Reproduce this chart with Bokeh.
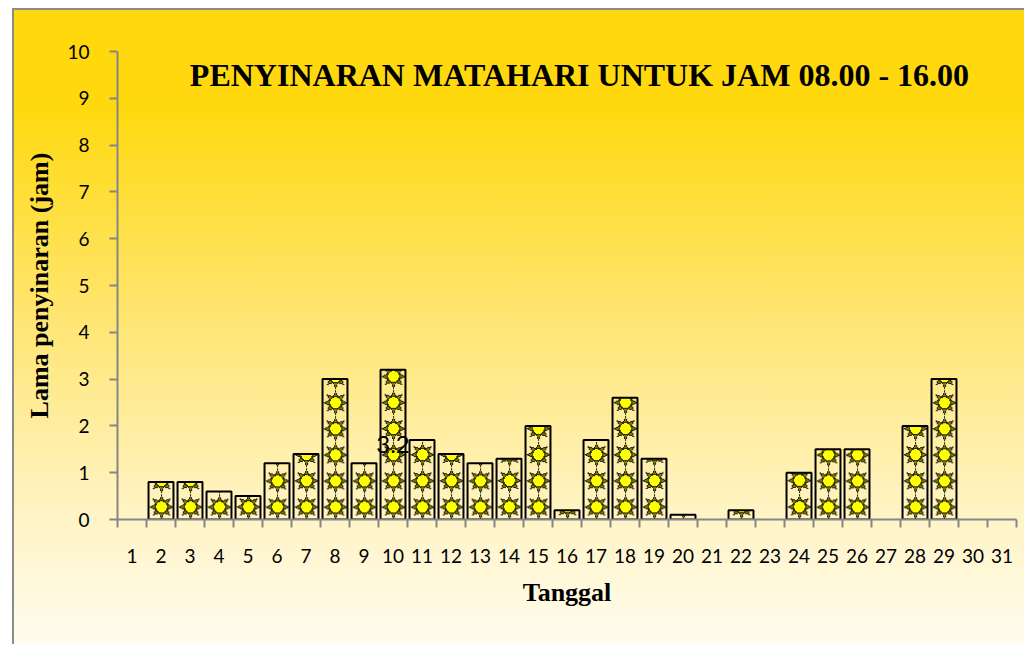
import numpy as np

from bokeh.core.properties import value
from bokeh.embed import file_html
from bokeh.models import ColumnDataSource, FixedTicker, Label
from bokeh.plotting import figure
from bokeh.resources import INLINE

# ---------------- data ----------------
days = list(range(1, 32))
day_labels = [str(d) for d in days]
hours = [0, 0.8, 0.8, 0.6, 0.5, 1.2, 1.4, 3.0, 1.2, 3.2, 1.7, 1.4, 1.2, 1.3, 2.0, 0.2,
         1.7, 2.6, 1.3, 0.1, 0, 0.2, 0, 1.0, 1.5, 1.5, 0, 2.0, 3.0, 0, 0]
label_days = [10]
label_values = [3.2]
y_ticks = list(range(0, 11))

title_text = "PENYINARAN MATAHARI UNTUK JAM 08.00 - 16.00"
x_title = "Tanggal"
y_title = "Lama penyinaran (jam)"

BAR_W = 0.86
PX_PER_UNIT_Y = 46.8   # frame height 468 px for 10 units (texture resolution)
BAR_PX_W = 25          # 0.86 of a 29 px category


# ---------------- sun-picture fill (decoration only) ----------------
def sun_fill(h_px, w_px=BAR_PX_W, period=26.0, first=12.3):
    yy, xx = np.mgrid[0:h_px, 0:w_px].astype(float) + 0.5
    rgba = np.zeros((h_px, w_px, 4), dtype=np.uint8)
    cx = w_px / 2.0
    k = 0
    while first + period * k - 14 < h_px:
        cy = first + period * k
        dx, dy = xx - cx, yy - cy
        r = np.hypot(dx, dy)
        ang = np.arctan2(dy, dx)
        a0 = np.round(ang / (np.pi / 4)) * (np.pi / 4)
        along = r * np.cos(ang - a0)
        perp = r * np.abs(np.sin(ang - a0))
        half = 2.7 * (12.4 - along) / 6.4
        ray = (along >= 5.0) & (along <= 12.4) & (perp <= half)
        ray_edge = ray & ((perp >= half - 0.9) | (along >= 11.6))
        circ = r <= 6.4
        circ_edge = circ & (r >= 5.3)
        rgba[ray] = (122, 118, 32, 255)
        rgba[ray_edge] = (40, 38, 0, 255)
        rgba[circ] = (255, 255, 0, 255)
        rgba[circ_edge] = (45, 45, 0, 255)
        k += 1
    img = np.zeros((h_px, w_px), dtype=np.uint32)
    img.view(dtype=np.uint8).reshape((h_px, w_px, 4))[:] = rgba
    return img


# ---------------- figure ----------------
p = figure(width=1012, height=636, x_range=(0.5, 31.5), y_range=(0, 10),
           output_backend="svg", toolbar_location=None,
           min_border_left=103, min_border_right=10, min_border_top=41, min_border_bottom=127)
p.margin = (8, 0, 0, 12)
p.styles = {
    "background": "linear-gradient(to bottom, #FFD90D 0%, #FFD90D 15%, #FFE676 50%, #FFF4C6 80%, #FFFCEE 100%)",
    "border-left": "2px solid #8c8c8c",
    "border-top": "2px solid #8c8c8c",
}
p.background_fill_alpha = 0
p.border_fill_alpha = 0
p.outline_line_color = None
p.xgrid.visible = False
p.ygrid.visible = False

bar_x = [d for d, h in zip(days, hours) if h > 0]
bar_h = [h for h in hours if h > 0]

images = [sun_fill(max(1, int(round(h * PX_PER_UNIT_Y)))) for h in bar_h]
p.image_rgba(image=images, x=[x - BAR_W / 2 for x in bar_x], y=[0] * len(bar_x),
             dw=[BAR_W] * len(bar_x), dh=bar_h)

src = ColumnDataSource(dict(x=bar_x, top=bar_h))
p.vbar(x="x", top="top", width=BAR_W, source=src, fill_alpha=0,
       line_color="black", line_width=2)

p.text(x=label_days, y=[v / 2 for v in label_values], text=[f"{v}" for v in label_values],
       text_align="center", text_baseline="middle", text_color="black",
       text_font=value("Lato"), text_font_size="24px")

p.add_layout(Label(x=16.43, y=9.49, text=title_text, text_align="center", text_baseline="middle",
                   text_font="Liberation Serif", text_font_style="bold", text_font_size="32px",
                   text_color="black"))

# x axis
xa = p.xaxis[0]
xa.ticker = FixedTicker(ticks=days, minor_ticks=[d + 0.5 for d in [0] + days])
xa.major_label_overrides = {d: s for d, s in zip(days, day_labels)}
xa.major_tick_out = 0
xa.major_tick_in = 0
xa.minor_tick_out = 8
xa.minor_tick_in = 0
xa.minor_tick_line_color = "#868686"
xa.minor_tick_line_width = 2
xa.axis_line_color = "#868686"
xa.axis_line_width = 2
xa.major_label_standoff = 21
xa.major_label_text_font = "Lato"
xa.major_label_text_font_size = "19px"
xa.major_label_text_color = "black"
xa.axis_label = x_title
xa.axis_label_text_font = "Liberation Serif"
xa.axis_label_text_font_style = "bold"
xa.axis_label_text_font_size = "26px"
xa.axis_label_text_color = "black"
xa.axis_label_standoff = 12

# y axis
ya = p.yaxis[0]
ya.ticker = FixedTicker(ticks=y_ticks)
ya.minor_tick_line_color = None
ya.major_tick_out = 8
ya.major_tick_in = 0
ya.major_tick_line_color = "#868686"
ya.major_tick_line_width = 2
ya.axis_line_color = "#868686"
ya.axis_line_width = 2
ya.major_label_standoff = 20
ya.major_label_text_font = "Lato"
ya.major_label_text_font_size = "19px"
ya.major_label_text_color = "black"
ya.axis_label = y_title
ya.axis_label_text_font = "Liberation Serif"
ya.axis_label_text_font_style = "bold"
ya.axis_label_text_font_size = "26px"
ya.axis_label_text_color = "black"
ya.axis_label_standoff = 10

open("out.html", "w").write(file_html(p, INLINE))
